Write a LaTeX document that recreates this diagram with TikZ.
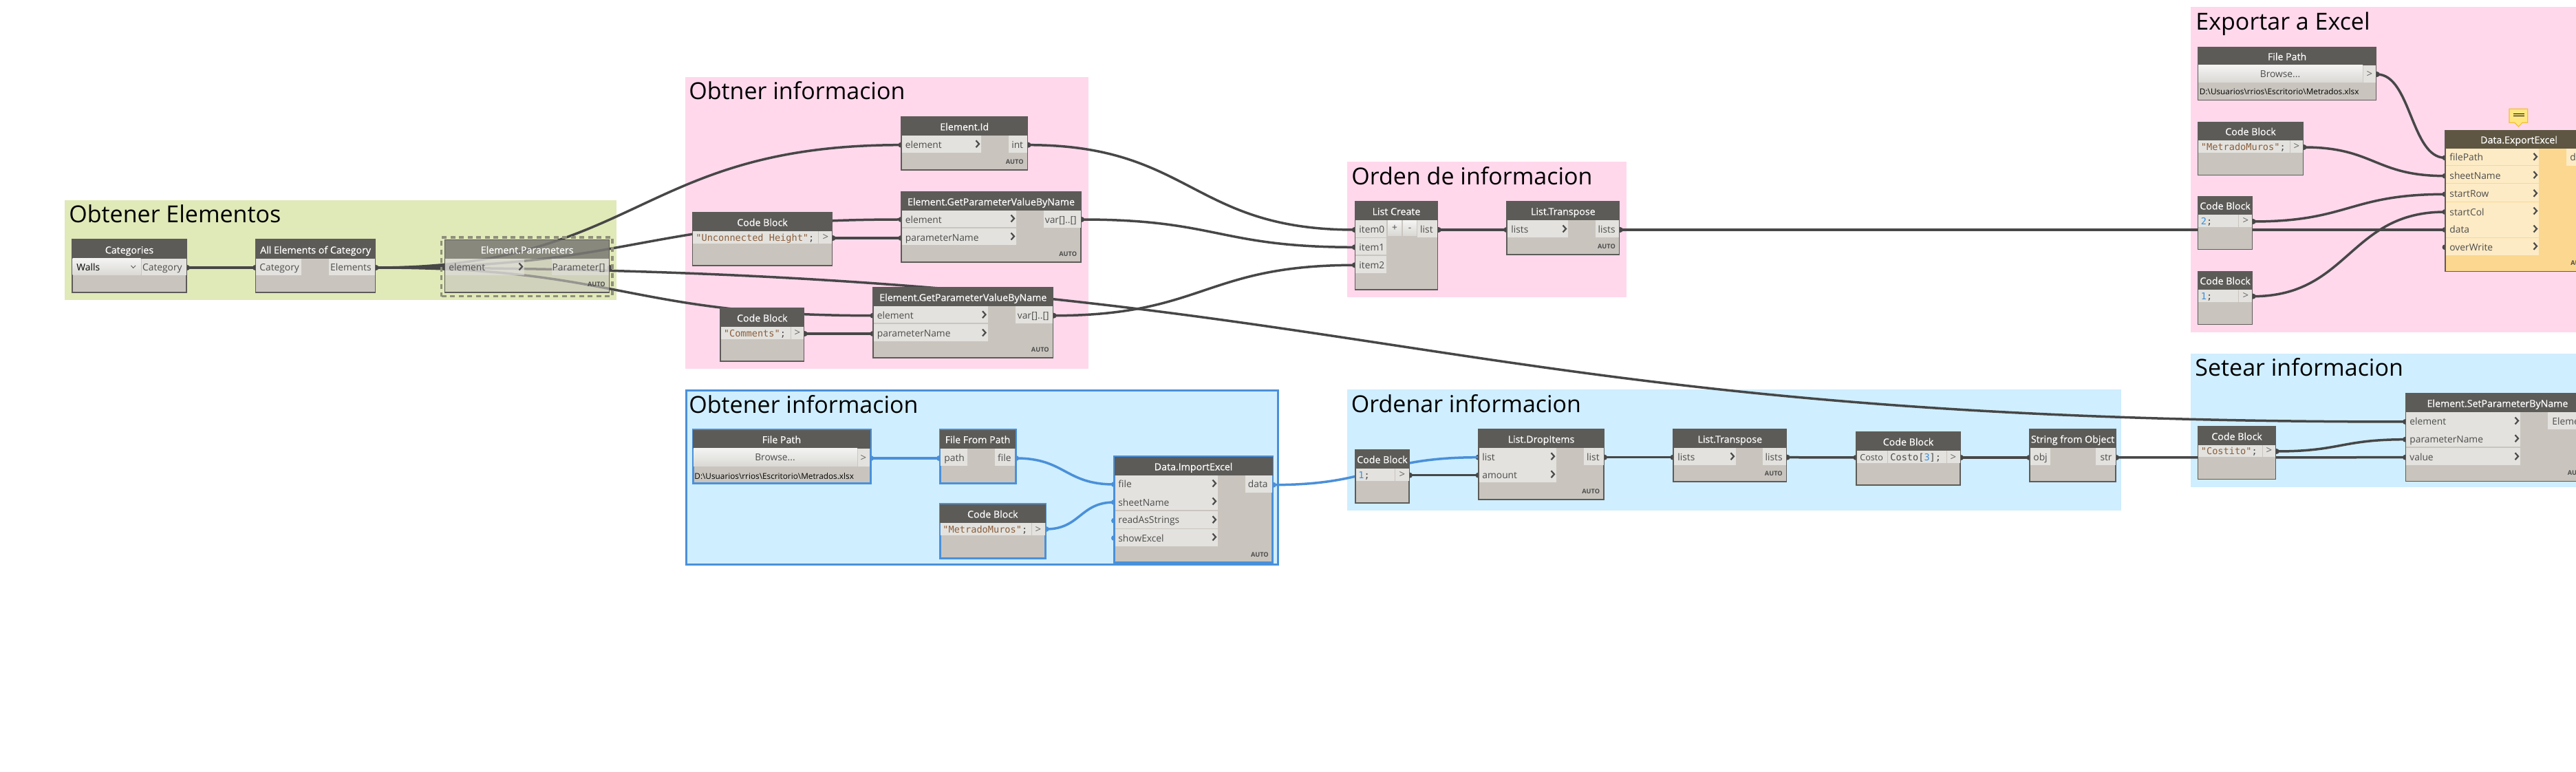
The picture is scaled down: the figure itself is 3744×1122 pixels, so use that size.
\documentclass[tikz,border=0pt]{standalone}
\usepackage{fontspec}
\setmainfont{Open Sans}
\setmonofont{DejaVu Sans Mono}
\usetikzlibrary{calc,fit}
\definecolor{gGreen}{HTML}{E0E9B8}
\definecolor{gPink}{HTML}{FFD8EC}
\definecolor{gBlue}{HTML}{CFEEFF}
\definecolor{nBody}{HTML}{C9C5BE}
\definecolor{nHead}{HTML}{5D5B58}
\definecolor{nCell}{HTML}{E3E2DE}
\definecolor{nText}{HTML}{4C4C4C}
\definecolor{wireC}{HTML}{474747}
\definecolor{selB}{HTML}{4A90D9}
\definecolor{xBody}{HTML}{FBD78F}
\definecolor{xHead}{HTML}{5E5642}
\definecolor{xCell}{HTML}{FDEBC5}
\definecolor{codeC}{HTML}{8B5E3C}
\definecolor{numC}{HTML}{3A8FDC}
\definecolor{dashC}{HTML}{8F8F7A}
\definecolor{bubF}{HTML}{FFE680}
\definecolor{bubL}{HTML}{F0C040}
\pgfdeclarelayer{grp}\pgfdeclarelayer{wire}
\pgfsetlayers{grp,wire,main}
\newfontfamily\headfont[FakeBold=0.35]{Open Sans}
\newcount\lblc
\def\nxt{\global\advance\lblc by 1 }
\def\bcol{nBody}\def\hcol{nHead}\def\lcol{nHead}\def\ccol{nCell}\def\fop{1}\def\blw{0.75pt}\def\pcol{wireC}
\tikzset{
  x=0.5pt,y=-0.5pt,
  titletext/.style={anchor=base,inner sep=0pt,text=white,font=\headfont\fontsize{7.1}{8}\selectfont},
  grouptitle/.style={anchor=base west,inner sep=0pt,text=black,font=\fontsize{17}{20}\selectfont},
  lab/.style={inner sep=0pt,text=nText,font=\fontsize{6.9}{8}\selectfont},
  code/.style={anchor=base west,inner sep=0pt,text=nText,font=\fontsize{6.8}{8}\ttfamily},
  autotext/.style={anchor=base east,inner sep=0pt,text=nText,font=\fontsize{4.6}{5}\selectfont\bfseries},
  portdot/.style={circle,inner sep=0pt,minimum size=4pt,fill=\pcol},
  wirestyle/.style={line width=1.75pt,draw=wireC},
  bluewire/.style={line width=1.75pt,draw=selB},
  chevstyle/.style={line width=1.1pt,draw=nText},
  pathtext/.style={inner sep=0pt,anchor=base west,text=black,font=\fontsize{5.9}{8}\selectfont}
}
\newcommand\dnode[7]{% id x1 y1 x2 y2 yh title
  \node[fit={(#2,#3)(#4,#5)},inner sep=0pt,fill=\bcol,draw=\lcol,line width=\blw,fill opacity=\fop] (#1) {};
  \node[fit={(#2,#3)(#4,#6)},inner sep=0pt,fill=\hcol,fill opacity=\fop] (#1-h) {};
  \node[titletext] (#1-t) at ({(#2+#4)/2},{#6-7.5}) {#7};}
\newcommand\cell[4]{\fill[\ccol,fill opacity=\fop] (#1,#2) rectangle (#3,#4);}
\newcommand\btn[4]{\path[top color=white!60!nCell,bottom color=nCell!90!gray] (#1,#2) rectangle (#3,#4);}
\newcommand\lbl[3]{\nxt\node[lab,anchor=base west] (lbl\the\lblc) at (#1,{#2+6}) {#3};}
\newcommand\rbl[3]{\nxt\node[lab,anchor=base east] (lbl\the\lblc) at (#1,{#2+6}) {#3};}
\newcommand\cbl[3]{\nxt\node[lab,anchor=base] (lbl\the\lblc) at (#1,{#2+6}) {#3};}
\newcommand\codet[3]{\nxt\node[code] (lbl\the\lblc) at (#1,{#2+6}) {#3};}
\newcommand\gtr[2]{\nxt\node[lab,anchor=base,text=nText!85,font=\fontsize{7.5}{8}\selectfont] (lbl\the\lblc) at (#1,{#2+5}) {>};}
\newcommand\auto[2]{\nxt\node[autotext] (lbl\the\lblc) at ({#1-5.5},{#2-8.5}) {AUTO};}
\newcommand\chev[2]{\draw[chevstyle] ({#1-7.5},{#2-6.5}) -- ({#1-3},{#2-1.5}) -- ({#1-7.5},{#2+3.5});}
\newcommand\port[3]{\begin{pgfonlayer}{wire}\node[portdot] (#1) at (#2,#3) {};\end{pgfonlayer}}
\newcommand\wire[3][wirestyle]{\begin{pgfonlayer}{wire}\draw[#1] let \p1=(#2.center),\p2=(#3.center),\n1={0.5*(\x2-\x1)} in (#2.center) .. controls (\x1+\n1,\y1) and (\x2-\n1,\y2) .. (#3.center);\end{pgfonlayer}}
\newcommand\grp[6]{\begin{pgfonlayer}{grp}\node[fit={(#2,#3)(#4,#5)},inner sep=0pt,fill=#6] (#1) {};\end{pgfonlayer}}
\newcommand\gtitle[4]{\node[grouptitle] (#1) at (#2,{#3+1.5}) {#4};}
\newcommand\cq[1]{\textcolor{codeC}{#1}\textcolor{nText}{;}}
\newcommand\cn[1]{\textcolor{numC}{#1}\textcolor{nText}{;}}
\begin{document}
\begin{tikzpicture}
\useasboundingbox (0,0) rectangle (3744,1122);
\begin{pgfonlayer}{grp}\fill[white] (0,0) rectangle (3744,1122);\end{pgfonlayer}
% groups
\grp{g1}{94}{291}{896}{436}{gGreen}
\grp{g2}{996}{112}{1582}{536}{gPink}
\grp{g3}{1958}{235}{2364}{431.7}{gPink}
\grp{g4}{3184}{10}{3760}{483}{gPink}
\begin{pgfonlayer}{grp}\node[fit={(997,567.7)(1857,820)},inner sep=0pt,fill=gBlue,draw=selB,line width=1.5pt] (g5) {};\end{pgfonlayer}
\grp{g6}{1958}{566}{3083}{741.7}{gBlue}
\grp{g7}{3184}{514}{3760}{707.7}{gBlue}
\gtitle{g1t}{100}{322}{Obtener Elementos}
\gtitle{g2t}{1001}{143}{Obtner informacion}
\gtitle{g3t}{1964}{266.7}{Orden de informacion}
\gtitle{g4t}{3191}{41.7}{Exportar a Excel}
\gtitle{g5t}{1001}{599}{Obtener informacion}
\gtitle{g6t}{1963.5}{598}{Ordenar informacion}
\gtitle{g7t}{3190}{545}{Setear informacion}
% Categories
\dnode{cat}{105}{348}{271}{425}{376}{Categories}
\btn{105.5}{376}{204.6}{400}
\cell{205.5}{376}{270.5}{400}
\nxt\node[lab,anchor=base west,text=black] (lbl\the\lblc) at (111,394) {Walls};
\rbl{265}{388}{Category}
\draw[line width=0.4pt,draw=nText] (190.5,386) -- (193.7,389.5) -- (197,386);
\port{catO}{272}{389}
% All elements
\dnode{all}{371.6}{348}{545.6}{425}{376}{All Elements of Category}
\cell{372}{376}{438}{400}\cell{478}{376}{545.2}{400}
\lbl{377}{388}{Category}\rbl{540}{388}{Elements}
\port{allI}{371}{389}\port{allO}{546.5}{389}
% Element.Parameters (selected, translucent)
\begingroup\def\fop{0.62}
\dnode{ep}{646.7}{348.3}{885.7}{425}{376}{Element.Parameters}
\cell{647}{376}{762}{400}\cell{802}{376}{885.3}{400}
\lbl{652}{388}{element}\rbl{880}{388}{Parameter[]}\chev{762}{389}\auto{885.7}{425}
\endgroup
\node[fit={(641.7,345)(890,430.7)},inner sep=0pt,draw=dashC,line width=1.75pt,dash pattern=on 3.5pt off 2.75pt] (epsel) {};
\port{epI}{646}{389}\port{epO}{886.5}{389}
% Element.Id
\dnode{eid}{1310}{170}{1493.5}{247}{197}{Element.Id}
\cell{1310.5}{197}{1426}{222}\cell{1466}{197}{1493}{222}
\lbl{1315.5}{210}{element}\rbl{1487.5}{210}{int}\chev{1426}{210.7}\auto{1493.5}{247}
\port{eidI}{1309.5}{210.7}\port{eidO}{1494.5}{210.7}
% GetParam 1
\dnode{gpa}{1310}{279}{1571}{381}{306}{Element.GetParameterValueByName}
\cell{1310.5}{306}{1477}{330.3}\cell{1310.5}{331.7}{1477}{356}\cell{1517}{306}{1570.5}{331}
\lbl{1315.5}{319}{element}\lbl{1315.5}{345}{parameterName}\rbl{1565}{319}{var[]..[]}
\chev{1477}{319}\chev{1477}{345}\auto{1571}{381}
\port{gpaE}{1309.5}{319}\port{gpaP}{1309.5}{346}\port{gpaO}{1572}{319}
% Code Block 1
\dnode{cba}{1006.5}{309}{1209.5}{386}{336}{Code Block}
\cell{1007}{336}{1188.5}{354}\cell{1189.5}{336}{1209}{354}
\codet{1011}{345}{\cq{"Unconnected Height"}}\gtr{1200}{345}
\port{cbaO}{1210.5}{346}
% GetParam 2
\dnode{gpb}{1269}{418}{1530.6}{520}{445}{Element.GetParameterValueByName}
\cell{1269.5}{445}{1435.5}{469.3}\cell{1269.5}{470.7}{1435.5}{495.7}\cell{1476}{445}{1530}{470}
\lbl{1274.5}{458}{element}\lbl{1274.5}{484}{parameterName}\rbl{1525}{458}{var[]..[]}
\chev{1435.5}{458.7}\chev{1435.5}{485}\auto{1530.6}{520}
\port{gpbE}{1268.5}{458.7}\port{gpbP}{1268.5}{485}\port{gpbO}{1531.6}{458.7}
% Code Block 2
\dnode{cbb}{1047}{448}{1168.6}{525}{475}{Code Block}
\cell{1047.5}{475}{1148.5}{492.7}\cell{1149.5}{475}{1168}{492.7}
\codet{1051.5}{484}{\cq{"Comments"}}\gtr{1159}{484}
\port{cbbO}{1169.6}{485}
% List Create
\dnode{lc}{1969.3}{293}{2089.7}{421}{320}{List Create}
\cell{1969.8}{320}{2015}{344.7}\cell{1969.8}{346}{2015}{370.3}\cell{1969.8}{371.7}{2015}{397}
\btn{2017}{320.7}{2037}{342.7}\btn{2039}{320.7}{2059}{342.7}\cell{2060}{320}{2089.2}{345}
\lbl{1975}{333}{item0}\lbl{1975}{359}{item1}\lbl{1975}{385}{item2}\rbl{2083}{333}{list}
\cbl{2027}{330}{+}\cbl{2049}{330}{-}
\port{lc0}{1968.8}{334}\port{lc1}{1968.8}{359.3}\port{lc2}{1968.8}{385.3}\port{lcO}{2090.7}{334}
% List.Transpose 1
\dnode{tr}{2190}{293}{2353.7}{370}{320}{List.Transpose}
\cell{2190.5}{320}{2279}{345}\cell{2319}{320}{2353.2}{345}
\lbl{2196}{333}{lists}\rbl{2348}{333}{lists}\chev{2279}{334}\auto{2353.7}{370}
\port{trI}{2189.5}{334}\port{trO}{2354.7}{334}
% Export: file path
\dnode{fpx}{3194.5}{68.3}{3453.7}{145.3}{95}{File Path}
\btn{3195}{95}{3434}{120}\cell{3435}{95}{3453.2}{120}
\cbl{3314}{107}{Browse...}\gtr{3444}{108}
\nxt\node[pathtext] (lbl\the\lblc) at (3196.5,138) {D:\textbackslash Usuarios\textbackslash rrios\textbackslash Escritorio\textbackslash Metrados.xlsx};
\port{fpxO}{3454.7}{108}
\dnode{cbx}{3194.5}{177.3}{3347.5}{254.3}{204}{Code Block}
\cell{3195}{204}{3327.5}{222}\cell{3328.5}{204}{3347}{222}
\codet{3198.5}{213}{\cq{"MetradoMuros"}}\gtr{3338}{213}
\port{cbxO}{3348.5}{214}
\dnode{cby}{3194.5}{285.3}{3273.6}{362.3}{312}{Code Block}
\cell{3195}{312}{3253}{330}\cell{3254}{312}{3273}{330}
\codet{3198.5}{321}{\cn{2}}\gtr{3264}{321}
\port{cbyO}{3274.6}{322}
\dnode{cbz}{3194.5}{394.3}{3273.6}{471.3}{421}{Code Block}
\cell{3195}{421}{3253}{439}\cell{3254}{421}{3273}{439}
\codet{3198.5}{430}{\cn{1}}\gtr{3264}{430}
\port{cbzO}{3274.6}{430.7}
% Export node
\begingroup\def\bcol{xBody}\def\hcol{xHead}\def\ccol{xCell}
\dnode{ex}{3554}{189.3}{3768}{394.3}{216}{Data.ExportExcel}
\cell{3554.5}{216}{3690}{240.5}\cell{3554.5}{241.5}{3690}{266}\cell{3554.5}{267}{3690}{292.7}
\cell{3554.5}{294.5}{3690}{344.7}\cell{3554.5}{345.7}{3690}{371}\cell{3730}{216}{3768}{241}
\lbl{3560}{228}{filePath}\lbl{3560}{255}{sheetName}\lbl{3560}{281}{startRow}
\lbl{3560}{308}{startCol}\lbl{3560}{333}{data}\lbl{3560}{359}{overWrite}
\lbl{3735}{228}{data}
\chev{3690}{229.3}\chev{3690}{255.7}\chev{3690}{282.3}\chev{3690}{308}\chev{3690}{334}\chev{3690}{359.3}
\auto{3768}{394.3}
\endgroup
\port{exF}{3553.5}{229.3}\port{exS}{3553.5}{255.7}\port{exR}{3553.5}{282.3}\port{exC}{3553.5}{308}\port{exD}{3553.5}{334}\port{exW}{3553.5}{359.3}
\draw[fill=bubF,draw=bubL,line width=0.6pt] (3647,158.3) -- (3673.7,158.3) -- (3673.7,178.3) -- (3666,178.3) -- (3660.4,184) -- (3654.8,178.3) -- (3647,178.3) -- cycle;
\draw[line width=0.4pt,black] (3653,165.7) -- (3669,165.7) (3653,168.5) -- (3669,168.5);
% Blue selected
\begingroup\def\lcol{selB}\def\blw{1.5pt}\def\pcol{selB}
\dnode{fpi}{1007}{625}{1265}{703}{651.7}{File Path}
\btn{1008}{651.7}{1246}{678}\cell{1247}{651.7}{1264}{678}
\cbl{1126.5}{664}{Browse...}\gtr{1255}{666}
\nxt\node[pathtext] (lbl\the\lblc) at (1009,697) {D:\textbackslash Usuarios\textbackslash rrios\textbackslash Escritorio\textbackslash Metrados.xlsx};
\port{fpiO}{1266}{666}
\dnode{ffp}{1366}{625}{1476}{703}{651.7}{File From Path}
\cell{1367}{651.7}{1406}{676.7}\cell{1446}{651.7}{1475}{676.7}
\lbl{1372}{665}{path}\rbl{1470}{665}{file}
\port{ffpI}{1365}{666}\port{ffpO}{1477}{666}
\dnode{cbi}{1366}{732.7}{1519.6}{811}{760}{Code Block}
\cell{1367}{760}{1499}{778}\cell{1500}{760}{1518.6}{778}
\codet{1370}{768}{\cq{"MetradoMuros"}}\gtr{1509}{769}
\port{cbiO}{1520.6}{769}
\dnode{imp}{1619.5}{664}{1849.7}{817.7}{691}{Data.ImportExcel}
\cell{1620.5}{691}{1770}{741}\cell{1620.5}{743}{1770}{767.5}\cell{1620.5}{769}{1770}{794}\cell{1810}{691}{1848.7}{715.7}
\lbl{1625}{703}{file}\lbl{1625}{729}{sheetName}\lbl{1625}{755}{readAsStrings}\lbl{1625}{781}{showExcel}\rbl{1843}{703}{data}
\chev{1770}{704}\chev{1770}{730}\chev{1770}{756.7}\chev{1770}{782}\auto{1849.7}{817.7}
\port{impF}{1619}{704}\port{impS}{1619}{730}\port{impR}{1619}{756.7}\port{impX}{1619}{782}\port{impO}{1850.7}{704.7}
\endgroup
% Ordenar
\dnode{cbo}{1970}{654}{2048}{731}{680.7}{Code Block}
\cell{1970.5}{680.7}{2027}{699}\cell{2028}{680.7}{2047.5}{699}
\codet{1974}{690}{\cn{1}}\gtr{2038}{690}
\port{cboO}{2049}{690.7}
\dnode{drp}{2149}{624}{2331}{726}{651}{List.DropItems}
\cell{2149.5}{651}{2262}{701}\cell{2302}{651}{2330.5}{676}
\lbl{2154}{664}{list}\lbl{2154}{690}{amount}\rbl{2325}{664}{list}
\chev{2262}{664.7}\chev{2262}{690.7}\auto{2331}{726}
\port{drpL}{2148.5}{664.7}\port{drpA}{2148.5}{690.7}\port{drpO}{2332}{664.7}
\dnode{trb}{2432}{624}{2596.6}{700}{651}{List.Transpose}
\cell{2432.5}{651}{2523}{676}\cell{2562}{651}{2596.1}{676}
\lbl{2438}{664}{lists}\rbl{2591}{664}{lists}\chev{2523}{664.7}\auto{2596.6}{700}
\port{trbI}{2431.5}{664.7}\port{trbO}{2597.6}{664.7}
\dnode{cbc}{2698}{628}{2849}{705}{655}{Code Block}
\cell{2698.5}{655}{2743}{673}\cell{2744}{655}{2829}{673}\cell{2830}{655}{2848.5}{673}
\nxt\node[lab,anchor=base west,font=\fontsize{6.3}{8}\selectfont] (lbl\the\lblc) at (2703,670) {Costo};
\codet{2747}{664}{Costo[\textcolor{numC}{3}];}\gtr{2839}{664}
\port{cbcI}{2697.5}{665}\port{cbcO}{2850}{665}
\dnode{sfo}{2950}{624}{3075}{700}{651}{String from Object}
\cell{2950.5}{651}{2980}{676}\cell{3046}{651}{3074.5}{676}
\lbl{2955}{664}{obj}\rbl{3070}{664}{str}
\port{sfoI}{2949.5}{665}\port{sfoO}{3076}{665}
% Setear
\dnode{cbs}{3194.5}{620}{3307.6}{696.7}{647}{Code Block}
\cell{3195}{647}{3288}{664}\cell{3289}{647}{3307.1}{664}
\codet{3198.5}{655}{\cq{"Costito"}}\gtr{3298}{655}
\port{cbsO}{3308.6}{656}
\dnode{set}{3496.5}{572}{3763.5}{699.3}{599}{Element.SetParameterByName}
\cell{3497}{599}{3663}{649}\cell{3497}{651}{3663}{676}\cell{3702.6}{599}{3763}{624}
\lbl{3502}{612}{element}\lbl{3502}{638}{parameterName}\lbl{3502}{664}{value}\lbl{3709}{612}{Element}
\chev{3663}{613}\chev{3663}{638.7}\chev{3663}{664.7}\auto{3763.5}{699.3}
\port{setE}{3496}{613}\port{setP}{3496}{638.7}\port{setV}{3496}{664.7}
% wires
\wire{catO}{allI}
\wire{allO}{epI}
\wire{allO}{eidI}
\wire{allO}{gpaE}
\wire{allO}{gpbE}
\wire{allO}{setE}
\wire{cbaO}{gpaP}
\wire{cbbO}{gpbP}
\wire{eidO}{lc0}
\wire{gpaO}{lc1}
\wire{gpbO}{lc2}
\wire{lcO}{trI}
\wire{trO}{exD}
\wire{fpxO}{exF}
\wire{cbxO}{exS}
\wire{cbyO}{exR}
\wire{cbzO}{exC}
\wire[bluewire]{fpiO}{ffpI}
\wire[bluewire]{ffpO}{impF}
\wire[bluewire]{cbiO}{impS}
\wire[bluewire]{impO}{drpL}
\wire{cboO}{drpA}
\wire{drpO}{trbI}
\wire{trbO}{cbcI}
\wire{cbcO}{sfoI}
\wire{sfoO}{setV}
\wire{cbsO}{setP}
\end{tikzpicture}
\end{document}
